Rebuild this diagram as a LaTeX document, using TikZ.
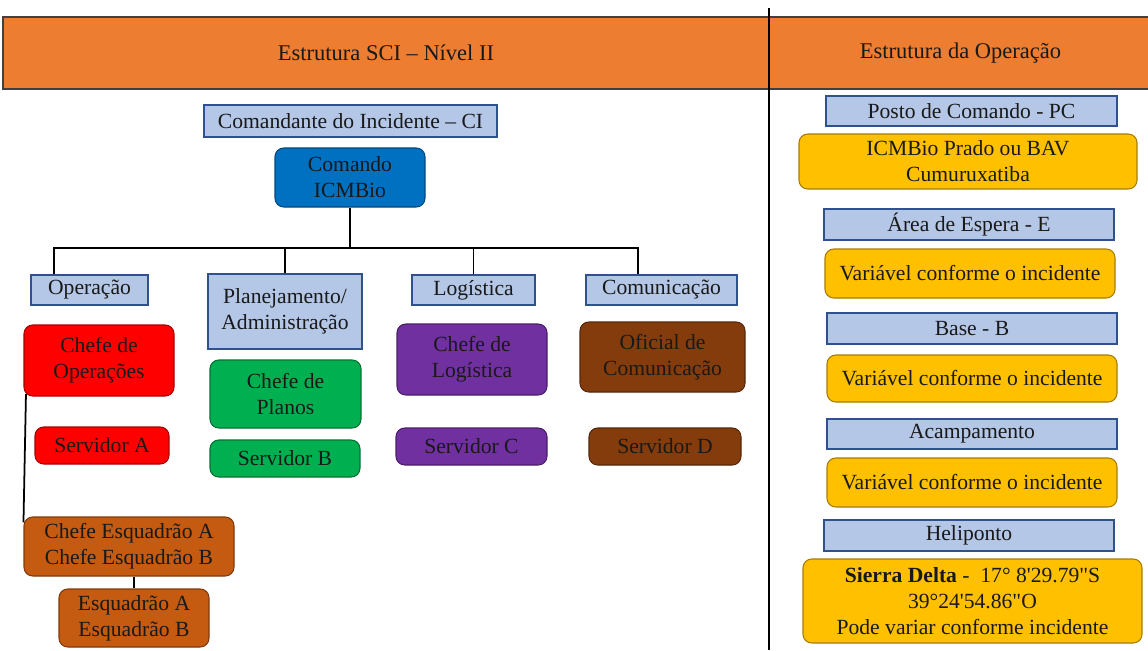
\documentclass[tikz,border=0pt]{standalone}
\usepackage{fontspec}
\setmainfont{Liberation Serif}
\usepackage{xcolor}
\usepackage{tikz}

\definecolor{laranja}{HTML}{ED7D31}
\definecolor{azulclaro}{HTML}{B4C7E7}
\definecolor{azulborda}{HTML}{2F528F}
\definecolor{azul}{HTML}{0070C0}
\definecolor{vermelho}{HTML}{FF0000}
\definecolor{verde}{HTML}{00B050}
\definecolor{roxo}{HTML}{7030A0}
\definecolor{marrom}{HTML}{843C0C}
\definecolor{ferrugem}{HTML}{C55A11}
\definecolor{amarelo}{HTML}{FFC000}

\begin{document}
\begin{tikzpicture}[x=0.02cm, y=-0.02cm, font=\fontsize{12.3}{14.7}\selectfont, text=black!90,
  tam/.style 2 args={minimum width=#1*0.02cm, minimum height=#2*0.02cm},
  cabec/.style={draw=black!75, fill=laranja, line width=0.8pt, inner sep=0pt,
    font=\fontsize{12.8}{15}\selectfont},
  cargo/.style={draw=azulborda, fill=azulclaro, line width=0.6pt, inner sep=0pt, align=center},
  caixa/.style={draw=#1!65!black, fill=#1, rounded corners=5pt, line width=0.6pt, inner sep=0pt, align=center},
  liga/.style={line width=1pt, black}]
\useasboundingbox (0,0) rectangle (1148,650);

% Cabecalho
\node[cabec, tam={766}{72}] (titulo) at (386,53) {Estrutura SCI – Nível II};
\node[cabec, tam={383}{72}] (tituloop) at (960.5,53) {Estrutura da Operação};
\coordinate (divtopo) at (769,8);
\coordinate (divbase) at (769,650);
\draw[liga] (divtopo) -- (divbase);

% Estrutura SCI
\node[cargo, tam={293}{32}] (ci) at (350.5,121) {Comandante do Incidente – CI};
\node[caixa=azul, tam={150}{59}] (cmd) at (350,177.5) {Comando\\ICMBio};

\node[cargo, tam={117}{30}] (op) at (89.5,290) {Operação};
\node[cargo, tam={154}{75}] (plan) at (285,311.5) {Planejamento/\\Administração};
\node[cargo, tam={123}{30}] (log) at (473.5,290) {Logística};
\node[cargo, tam={151}{30}] (com) at (661.5,290) {Comunicação};

\node[caixa=vermelho, tam={150}{71}] (chop) at (99,360.5) {Chefe de\\Operações};
\node[caixa=vermelho, tam={134}{37}] (srva) at (102,445.5) {Servidor A};
\node[caixa=verde, tam={151}{68}] (chpl) at (285.5,394) {Chefe de\\Planos};
\node[caixa=verde, tam={150}{37}] (srvb) at (285,458.5) {Servidor B};
\node[caixa=roxo, tam={150}{71}] (chlog) at (472,359.5) {Chefe de\\Logística};
\node[caixa=roxo, tam={151}{37}] (srvc) at (471.5,446.5) {Servidor C};
\node[caixa=marrom, tam={165}{70}] (ofcom) at (662.5,357) {Oficial de\\Comunicação};
\node[caixa=marrom, tam={152}{37}] (srvd) at (665,446.5) {Servidor D};

\node[caixa=ferrugem, tam={210}{59}] (chesq) at (129,546.5) {Chefe Esquadrão A\\Chefe Esquadrão B};
\node[caixa=ferrugem, tam={150}{58}] (esq) at (134,618) {Esquadrão A\\Esquadrão B};

% Ligacoes
\coordinate (barra) at (350,248);
\draw[liga] (cmd.south) -- (barra);
\draw[liga] ([xshift=-0.71cm]op.north) |- (barra) -| ([xshift=-0.47cm]com.north);
\draw[liga] (plan.north) -- (plan.north |- barra);
\draw[liga] (log.north) -- (log.north |- barra);
\draw[liga] ([xshift=0.05cm,yshift=0.05cm]chop.south west) -- ([yshift=-0.12cm]chesq.north west);
\draw[liga] (esq.north) -- (esq.north |- chesq.south);

% Estrutura da Operacao
\node[cargo, tam={291}{30}] (pc) at (971.5,111) {Posto de Comando - PC};
\node[caixa=amarelo, tam={338}{55}] (pcv) at (968,161.5) {ICMBio Prado ou BAV\\Cumuruxatiba};
\node[cargo, tam={290}{31}] (ae) at (969,224.5) {Área de Espera - E};
\node[caixa=amarelo, tam={290}{49}] (aev) at (970,273.5) {Variável conforme o incidente};
\node[cargo, tam={290}{31}] (bs) at (972,328.5) {Base - B};
\node[caixa=amarelo, tam={290}{47}] (bsv) at (972,378.5) {Variável conforme o incidente};
\node[cargo, tam={290}{30}] (acp) at (972,434) {Acampamento};
\node[caixa=amarelo, tam={290}{49}] (acpv) at (972,482.5) {Variável conforme o incidente};
\node[cargo, tam={290}{31}] (hel) at (969,535.5) {Heliponto};
\node[caixa=amarelo, tam={339}{84}] (helv) at (972.5,601)
  {\textbf{Sierra Delta} -\ \ 17° 8\textquotesingle29.79\textquotedbl S\\39°24\textquotesingle54.86\textquotedbl O\\Pode variar conforme incidente};
\end{tikzpicture}
\end{document}
